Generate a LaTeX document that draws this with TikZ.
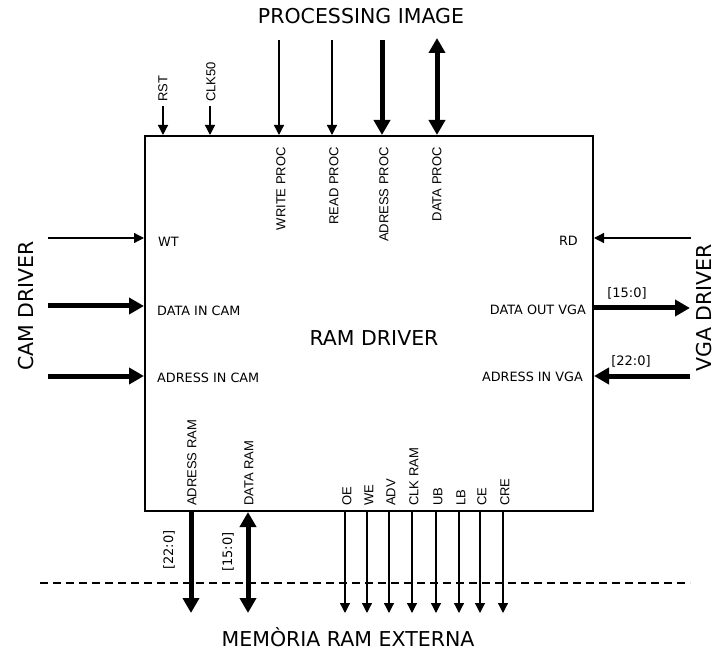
\documentclass[tikz,border=0pt]{standalone}
\usepackage{fontspec}
\setmainfont{DejaVu Sans}
\newfontfamily\arialf{Liberation Sans}
\usetikzlibrary{arrows.meta}
\tikzset{
  sigarrow/.style={line width=1.3pt,-{Triangle[length=10pt,width=10pt]}},
  busarrow/.style={line width=5pt,-{Triangle[length=15pt,width=16pt]}},
  busboth/.style={line width=5pt,{Triangle[length=15pt,width=16pt]}-{Triangle[length=15pt,width=16pt]}},
  biglabel/.style={inner sep=0pt,font=\fontsize{20.5}{23}\selectfont},
  hlabel/.style={inner sep=0pt,font=\fontsize{12.8}{14}\selectfont},
  buslabel/.style={inner sep=0pt,font=\fontsize{13}{15}\selectfont},
  vlabel/.style={inner sep=0pt,rotate=90,font=\arialf\fontsize{13}{15}\selectfont},
  mainbox/.style={draw,line width=2pt,minimum width=448pt,minimum height=375pt,inner sep=0pt},
}
\begin{document}
\begin{tikzpicture}[x=1pt,y=-1pt]
\useasboundingbox (0,0) rectangle (716,650);
\node[mainbox] (ram) at (369,323.5) {};
\node[biglabel] (title) at (374,338) {RAM DRIVER};
\node[biglabel] (proc) at (361,16) {PROCESSING IMAGE};
\node[biglabel,rotate=90] (cam) at (26,306) {CAM DRIVER};
\node[biglabel,rotate=90] (vga) at (704.5,308) {VGA DRIVER};
\node[biglabel] (mem) at (348,637) {MEMÒRIA RAM EXTERNA};

% top inputs
\coordinate (rstS) at (163,106);
\coordinate (clkS) at (210,106);
\coordinate (wpS) at (279,40);
\coordinate (rpS) at (332,40);
\coordinate (apS) at (382,40);
\coordinate (dpS) at (437,38);
\draw[sigarrow] (rstS) -- (rstS |- ram.north);
\draw[sigarrow] (clkS) -- (clkS |- ram.north);
\draw[sigarrow] (wpS) -- (wpS |- ram.north);
\draw[sigarrow] (rpS) -- (rpS |- ram.north);
\draw[busarrow] (apS) -- (apS |- ram.north);
\draw[busboth] (dpS) -- (dpS |- ram.north);
\node[vlabel,anchor=west] (rstL) at (163,102) {RST};
\node[vlabel,anchor=west] (clkL) at (211,102) {CLK50};
\node[vlabel,anchor=east] (wpL) at (281,147) {WRITE PROC};
\node[vlabel,anchor=east] (rpL) at (334,147) {READ PROC};
\node[vlabel,anchor=east] (apL) at (384,147) {ADRESS PROC};
\node[vlabel,anchor=east] (dpL) at (437,147) {DATA PROC};

% left inputs
\coordinate (wtS) at (48,238);
\coordinate (dcS) at (48,306);
\coordinate (acS) at (48,376);
\draw[sigarrow] (wtS) -- (wtS -| ram.west);
\draw[busarrow] (dcS) -- (dcS -| ram.west);
\draw[busarrow] (acS) -- (acS -| ram.west);
\node[hlabel,anchor=west] (wtL) at (158,241.5) {WT};
\node[hlabel,anchor=west] (dcL) at (157,310.5) {DATA IN CAM};
\node[hlabel,anchor=west] (acL) at (157,378) {ADRESS IN CAM};

% right side
\coordinate (rdS) at (691,238);
\coordinate (dvE) at (690,308);
\coordinate (avS) at (690,376);
\draw[sigarrow] (rdS) -- (rdS -| ram.east);
\draw[busarrow] (dvE -| ram.east) -- (dvE);
\draw[busarrow] (avS) -- (avS -| ram.east);
\node[hlabel,anchor=east] (rdL) at (578,240.5) {RD};
\node[hlabel,anchor=east] (dvL) at (586,310) {DATA OUT VGA};
\node[hlabel,anchor=east] (avL) at (583,377) {ADRESS IN VGA};
\node[buslabel] (dvB) at (627,293) {[15:0]};
\node[buslabel] (avB) at (631,361) {[22:0]};

% dashed boundary
\coordinate (dl) at (40,583);
\coordinate (dr) at (690,583);
\draw[line width=1.2pt,dash pattern=on 8pt off 5pt] (dl) -- (dr);

% bottom outputs
\coordinate (arE) at (191,613);
\coordinate (drE) at (248,613);
\draw[busarrow] (arE |- ram.south) -- (arE);
\draw[busboth] (drE |- ram.south) -- (drE);
\node[vlabel,anchor=west] (arL) at (192,506) {ADRESS RAM};
\node[vlabel,anchor=west] (drL) at (249,506) {DATA RAM};
\node[buslabel,rotate=90] (arB) at (169,550) {[22:0]};
\node[buslabel,rotate=90] (drB) at (228,552) {[15:0]};
\foreach \nm/\xx/\tx in {oe/345/OE, we/367/WE, adv/389/ADV, clk/412/CLK RAM, ub/436/UB, lb/459/LB, ce/480/CE, cre/503/CRE}{
  \coordinate (\nm E) at (\xx,613);
  \draw[sigarrow] (\nm E |- ram.south) -- (\nm E);
  \node[vlabel,anchor=west] (\nm L) at (\xx+2,506) {\tx};
}
\end{tikzpicture}
\end{document}
